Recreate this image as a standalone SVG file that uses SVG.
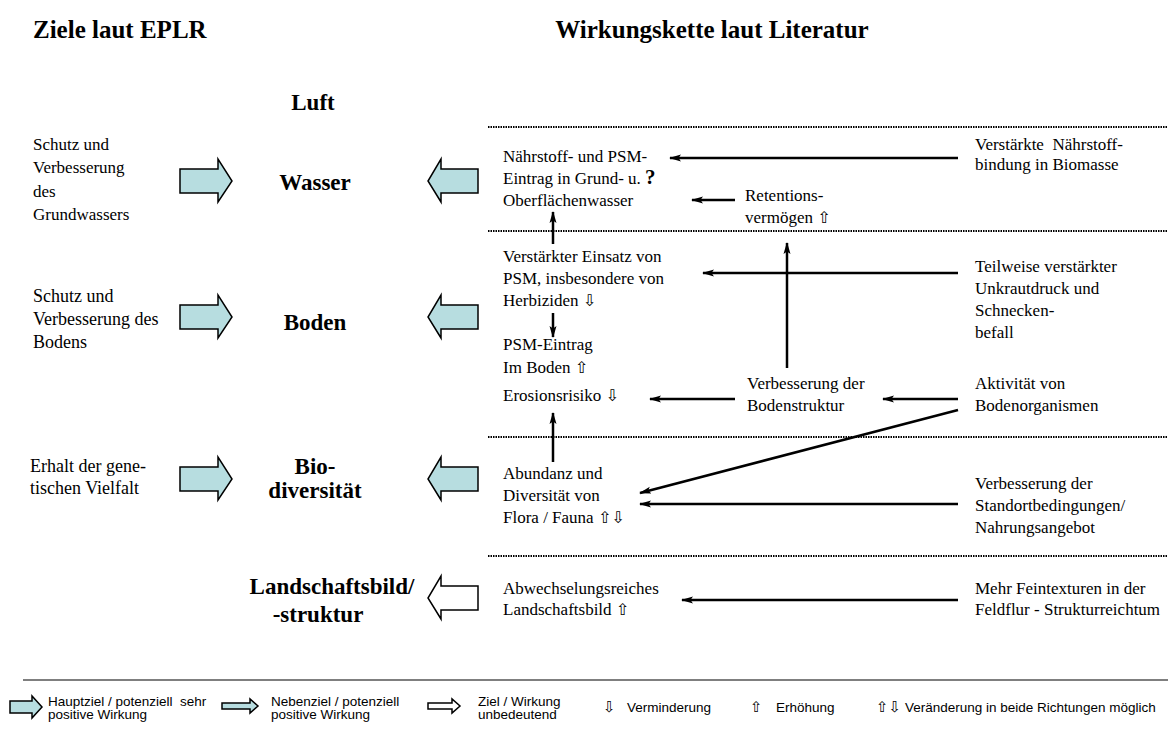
<svg xmlns="http://www.w3.org/2000/svg" width="1176" height="729" viewBox="0 0 1176 729">
<style>
.t{font-family:"Liberation Serif","DejaVu Serif",serif;font-size:17px;fill:#000;white-space:pre}
.tb{font-size:18px}
.s{font-family:"DejaVu Sans",sans-serif;font-size:16px;fill:#000}
.h{font-family:"Liberation Serif",serif;font-size:25px;font-weight:bold}
.c{font-family:"Liberation Serif",serif;font-size:23px;font-weight:bold;text-anchor:middle}
.l{font-family:"Liberation Sans",Arial,sans-serif;font-size:13.5px;white-space:pre}
.ls{font-family:"DejaVu Sans",sans-serif;font-size:15px}
.dot{stroke:#000;stroke-width:2;stroke-dasharray:1.5 1}
.con{stroke:#000;stroke-width:2.5;fill:none;marker-end:url(#ah)}
.blk{fill:#b7dde0;stroke:#000;stroke-width:1.5}
.wht{fill:#fff;stroke:#000;stroke-width:1.5}
</style>
<defs>
<marker id="ah" markerUnits="userSpaceOnUse" markerWidth="12" markerHeight="10" refX="11" refY="5" orient="auto">
<path d="M0,1.5 L12,5 L0,8.5 L2.5,5 Z" fill="#000"/>
</marker>
<path id="ra" d="M0,-12 H38 V-22 L52,0 L38,21 V12 H0 Z"/>
<path id="la" d="M50,-12 H13 V-22 L0,0 L13,21 V12 H50 Z"/>
</defs>
<rect width="1176" height="729" fill="#fff"/>
<text class="h" x="33" y="38">Ziele laut EPLR</text>
<text class="h" x="712" y="38" text-anchor="middle">Wirkungskette laut Literatur</text>
<g id="separators">
<line class="dot" x1="488" y1="127" x2="1168" y2="127"/>
<line class="dot" x1="488" y1="231" x2="1168" y2="231"/>
<line class="dot" x1="488" y1="437" x2="1168" y2="437"/>
<line class="dot" x1="488" y1="556" x2="1168" y2="556"/>
</g>
<g id="luft"><text class="c" x="313" y="110">Luft</text></g>
<g id="ziel-wasser"><text class="t" x="33" y="150">Schutz und</text><text class="t" x="33" y="173">Verbesserung</text><text class="t" x="33" y="197">des</text><text class="t" x="33" y="220">Grundwassers</text></g>
<g id="ziel-boden"><text class="t tb" x="33" y="302">Schutz und</text><text class="t tb" x="33" y="325">Verbesserung des</text><text class="t tb" x="33" y="348">Bodens</text></g>
<g id="ziel-bio"><text class="t tb" x="30" y="472">Erhalt der gene-</text><text class="t tb" x="30" y="494">tischen Vielfalt</text></g>
<g id="wasser"><text class="c" x="315" y="190">Wasser</text></g>
<g id="boden"><text class="c" x="315" y="330">Boden</text></g>
<g id="bio"><text class="c" x="315" y="474">Bio-</text><text class="c" x="315" y="498">diversität</text></g>
<g id="landschaft"><text class="c" x="332" y="594">Landschaftsbild/</text><text class="c" x="318" y="622">-struktur</text></g>
<g id="block-arrows">
<use href="#ra" class="blk" x="180" y="181"/>
<use href="#la" class="blk" x="428" y="181"/>
<use href="#ra" class="blk" x="180" y="317"/>
<use href="#la" class="blk" x="428" y="317"/>
<use href="#ra" class="blk" x="180" y="479"/>
<use href="#la" class="blk" x="428" y="479"/>
<use href="#la" class="wht" x="428" y="598"/>
</g>
<g id="eintrag-wasser"><text class="t" x="503" y="162">Nährstoff- und PSM-</text><text class="t" x="503" y="184">Eintrag in Grund- u. <tspan font-weight="bold" font-size="21px">?</tspan></text><text class="t" x="503" y="206">Oberflächenwasser</text></g>
<g id="naehrstoffbindung"><text class="t" x="975" y="150">Verstärkte  Nährstoff-</text><text class="t" x="975" y="170">bindung in Biomasse</text></g>
<g id="retention"><text class="t" x="745" y="201">Retentions-</text><text class="t" x="745" y="223">vermögen <tspan class="s">⇧</tspan></text></g>
<g id="psm-einsatz"><text class="t" x="503" y="262">Verstärkter Einsatz von</text><text class="t" x="503" y="284">PSM, insbesondere von</text><text class="t" x="503" y="306">Herbiziden <tspan class="s">⇩</tspan></text></g>
<g id="unkraut"><text class="t" x="975" y="272">Teilweise verstärkter</text><text class="t" x="975" y="294">Unkrautdruck und</text><text class="t" x="975" y="316">Schnecken-</text><text class="t" x="975" y="338">befall</text></g>
<g id="psm-boden"><text class="t" x="503" y="350">PSM-Eintrag</text><text class="t" x="503" y="373">Im Boden <tspan class="s">⇧</tspan></text></g>
<g id="erosion"><text class="t" x="503" y="401">Erosionsrisiko <tspan class="s">⇩</tspan></text></g>
<g id="bodenstruktur"><text class="t" x="747" y="389">Verbesserung der</text><text class="t" x="747" y="411">Bodenstruktur</text></g>
<g id="bodenorganismen"><text class="t" x="975" y="389">Aktivität von</text><text class="t" x="975" y="411">Bodenorganismen</text></g>
<g id="abundanz"><text class="t" x="503" y="479">Abundanz und</text><text class="t" x="503" y="501">Diversität von</text><text class="t" x="503" y="523">Flora / Fauna <tspan class="s">⇧⇩</tspan></text></g>
<g id="standort"><text class="t" x="975" y="489">Verbesserung der</text><text class="t" x="975" y="511">Standortbedingungen/</text><text class="t" x="975" y="533">Nahrungsangebot</text></g>
<g id="landschaftsbild-wirk"><text class="t" x="503" y="594">Abwechselungsreiches</text><text class="t" x="503" y="615">Landschaftsbild <tspan class="s">⇧</tspan></text></g>
<g id="feintexturen"><text class="t" x="975" y="594">Mehr Feintexturen in der</text><text class="t" x="975" y="615">Feldflur - Strukturreichtum</text></g>
<g id="connectors">
<line class="con" x1="958" y1="158" x2="670" y2="158"/>
<line class="con" x1="735" y1="200" x2="692" y2="200"/>
<line class="con" x1="553" y1="244" x2="553" y2="212"/>
<line class="con" x1="958" y1="273" x2="703" y2="273"/>
<line class="con" x1="787" y1="368" x2="787" y2="243"/>
<line class="con" x1="553" y1="313" x2="553" y2="337"/>
<line class="con" x1="735" y1="399" x2="650" y2="399"/>
<line class="con" x1="958" y1="399" x2="883" y2="399"/>
<line class="con" x1="958" y1="410" x2="640" y2="493"/>
<line class="con" x1="553" y1="462" x2="553" y2="413"/>
<line class="con" x1="958" y1="504" x2="640" y2="504"/>
<line class="con" x1="958" y1="600" x2="682" y2="600"/>
</g>
<g id="legend">
<line x1="23" y1="680" x2="1168" y2="680" stroke="#000" stroke-width="1.2"/>
<path class="blk" d="M10,701 H32 V696 L42,707 L32,718 V713 H10 Z"/>
<text class="l" x="48" y="706">Hauptziel / potenziell  sehr</text><text class="l" x="48" y="719">positive Wirkung</text>
<path class="blk" d="M222,703 H250 V699 L258,706 L250,713 V709 H222 Z"/>
<text class="l" x="271" y="706">Nebenziel / potenziell</text><text class="l" x="271" y="719">positive Wirkung</text>
<path class="wht" d="M428,703 H452 V699 L460,706 L452,713 V709 H428 Z"/>
<text class="l" x="478" y="706">Ziel / Wirkung</text><text class="l" x="478" y="719">unbedeutend</text>
<text class="ls" x="603" y="712">⇩</text><text class="l" x="627" y="712">Verminderung</text>
<text class="ls" x="750" y="712">⇧</text><text class="l" x="776" y="712">Erhöhung</text>
<text class="ls" x="876" y="712">⇧⇩</text><text class="l" x="905" y="712">Veränderung in beide Richtungen möglich</text>
</g>
</svg>
